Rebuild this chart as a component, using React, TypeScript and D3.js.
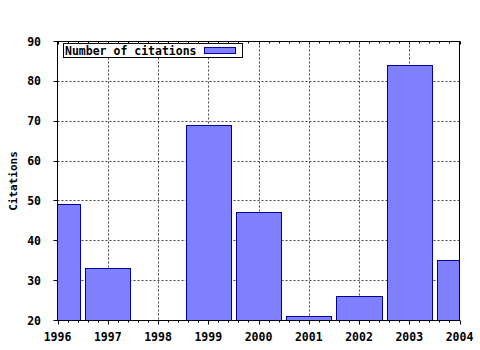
import React from "react";
import * as d3 from "d3";

const years = [1996, 1997, 1998, 1999, 2000, 2001, 2002, 2003, 2004];
const citations = [49, 33, 20, 69, 47, 21, 26, 84, 35];
const yTicks = [20, 30, 40, 50, 60, 70, 80, 90];
const seriesName = "Number of citations";
const yLabel = "Citations";

const W = 480;
const H = 350;
const L = 57.5, R = 459.5, T = 41.5, B = 320.5;
const FONT = "'DejaVu Sans Mono', monospace";
const FILL = "#8080ff";
const STROKE = "#0000a0";

export default function App() {
  const x = d3.scaleLinear().domain([1996, 2004]).range([L, R]);
  const y = d3.scaleLinear().domain([20, 90]).range([B, T]);
  const minor = d3.range(1996, 2004.001, 0.2).map((v) => Math.round(v * 10) / 10);
  const barHalf = 0.45;

  return (
    <svg
      width={W}
      height={H}
      style={{ position: "absolute", left: 0, top: 0, background: "#fff" }}
      fontFamily={FONT}
      fontWeight="bold"
      fontSize={11.5}
    >
      <defs>
        <clipPath id="plot">
          <rect x={L} y={T} width={R - L} height={B - T} />
        </clipPath>
      </defs>
      <rect x={0} y={0} width={W} height={H} fill="#fff" />
      {/* grid */}
      {years.slice(1, -1).map((yr) => (
        <line key={"gx" + yr} x1={Math.round(x(yr)) + 0.5} x2={Math.round(x(yr)) + 0.5} y1={T} y2={B}
          stroke="#444" strokeDasharray="2,2" />
      ))}
      {yTicks.slice(1, -1).map((v) => (
        <line key={"gy" + v} x1={L} x2={R} y1={Math.round(y(v) - 0.5) + 0.5} y2={Math.round(y(v) - 0.5) + 0.5}
          stroke="#444" strokeDasharray="2,2" />
      ))}
      {/* bars */}
      <g clipPath="url(#plot)">
        {years.map((yr, i) => {
          const v = citations[i];
          if (v <= 20) return null;
          const x0 = Math.round(x(yr - barHalf)) + 0.5;
          const x1 = Math.round(x(yr + barHalf)) + 0.5;
          const y0 = Math.round(y(v) - 0.5) + 0.5;
          return (
            <rect key={yr} x={x0} y={y0} width={x1 - x0} height={B - y0 + 2}
              fill={FILL} stroke={STROKE} strokeWidth={1} />
          );
        })}
      </g>
      {/* frame */}
      <rect x={L} y={T} width={R - L} height={B - T} fill="none" stroke="#000" />
      {/* x ticks */}
      {minor.map((v, i) => {
        const px = Math.round(x(v)) + 0.5;
        const major = i % 5 === 0;
        return (
          <g key={"mt" + i}>
            <line x1={px} x2={px} y1={B} y2={B + (major ? 4 : 2)} stroke="#000" />
            <line x1={px} x2={px} y1={T} y2={T + (major ? 3 : 2)} stroke="#000" />
          </g>
        );
      })}
      {/* y ticks */}
      {yTicks.map((v) => (
        <line key={"yt" + v} x1={L - 4} x2={L} y1={Math.round(y(v) - 0.5) + 0.5} y2={Math.round(y(v) - 0.5) + 0.5} stroke="#000" />
      ))}
      {yTicks.map((v) => (
        <text key={"yl" + v} x={41} y={y(v) + 4} textAnchor="end" fill="#000">{v}</text>
      ))}
      {years.map((yr) => (
        <text key={"xl" + yr} x={x(yr)} y={341} textAnchor="middle" fill="#000">{yr}</text>
      ))}
      <text transform={`translate(17,181) rotate(-90)`} textAnchor="middle" fontSize={11} fill="#000">{yLabel}</text>
      {/* legend */}
      <rect x={63.5} y={43.5} width={179} height={14} fill="#fff" stroke="#000" />
      <text x={65} y={54.5} fill="#000">{seriesName}</text>
      <rect x={204.5} y={47.5} width={31} height={6} fill={FILL} stroke={STROKE} />
    </svg>
  );
}
